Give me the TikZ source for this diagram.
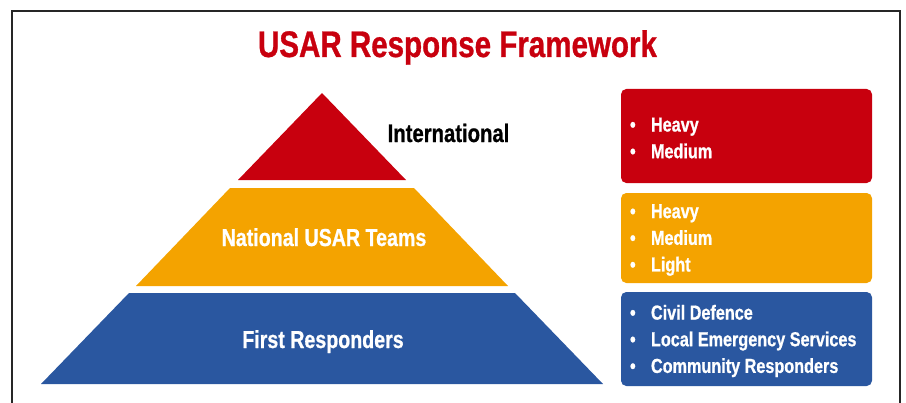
\documentclass[tikz,border=0pt]{standalone}
\usepackage{fontspec}
\setmainfont[FakeStretch=0.8, BoldFeatures={FakeBold=0.8}]{Liberation Sans}
\usepackage{tikz}
\usetikzlibrary{calc}
\definecolor{usarred}{RGB}{200,0,14}
\definecolor{usarorange}{RGB}{244,163,0}
\definecolor{usarblue}{RGB}{42,87,160}
\newcommand{\bul}[1]{\makebox[15.75pt][l]{\textbullet}#1}

\begin{document}
\begin{tikzpicture}[x=0.75pt,y=-0.75pt]
	\tikzstyle{every node}=[font=\bfseries]
	\tikzstyle{tierbox}=[rounded corners=4pt, minimum width=188.25pt, inner sep=0pt]
	\tikzstyle{tierlabel}=[text=white, anchor=base, font=\bfseries\fontsize{18.4}{22}\selectfont]
	\tikzstyle{listtext}=[text=white, align=left, anchor=west, inner sep=0pt, font=\bfseries\fontsize{15.2}{20}\selectfont]
	\useasboundingbox (0,0) rectangle (906,403);
	
	% frame
	\draw[line width=1.1pt, black!85] (12,403) -- (12,11) -- (900,11) -- (900,403);
	
	\node[text=usarred, anchor=base, font=\bfseries\fontsize{27.7}{30}\selectfont] (title) at (457.5,57) {USAR Response Framework};
	
	% pyramid
	\fill[usarred] (322,93) -- (406,180) -- (238,180) -- cycle;
	\fill[usarorange] (230,188) -- (414,188) -- (508,286) -- (136,286) -- cycle;
	\fill[usarblue] (129,293) -- (515,293) -- (603,384) -- (41,384) -- cycle;
	
	\node[anchor=base west, font=\bfseries\fontsize{19}{22}\selectfont] (intl) at (383,142) {International};
	\node[tierlabel] (national) at (324,246) {National USAR Teams};
	\node[tierlabel] (first) at (323,348) {First Responders};
	
	% boxes
	\node[tierbox, fill=usarred, minimum height=70.5pt] (intlbox) at (746.5,136) {};
	\node[tierbox, fill=usarorange, minimum height=67.5pt] (natbox) at (746.5,238) {};
	\node[tierbox, fill=usarblue, minimum height=70.5pt] (firstbox) at (746.5,339) {};
	
	\node[listtext] (intllist) at ($(intlbox.west)+(9,2)$) {\bul{Heavy}\\ \bul{Medium}};
	\node[listtext] (natlist) at ($(natbox.west)+(9,2)$) {\bul{Heavy}\\ \bul{Medium}\\ \bul{Light}};
	\node[listtext] (firstlist) at ($(firstbox.west)+(9,2)$) {\bul{Civil Defence}\\ \bul{Local Emergency Services}\\ \bul{Community Responders}};
	
\end{tikzpicture}
\end{document}
